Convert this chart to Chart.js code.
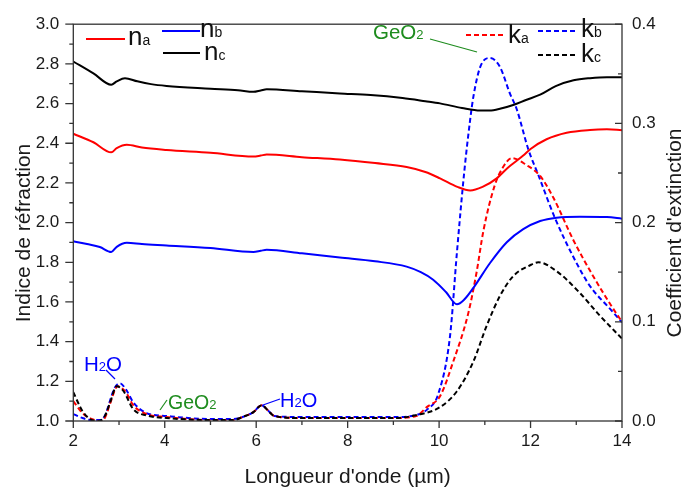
<!DOCTYPE html>
<html><head><meta charset="utf-8">
<script src="https://cdn.jsdelivr.net/npm/chart.js@4/dist/chart.umd.min.js"></script>
<style>html,body{margin:0;padding:0;background:#fff}canvas{display:block}</style>
</head><body>
<canvas id="c" width="684" height="490"></canvas>
<script>
// ---- data (wavelength in µm) ----
const ncX = [2.0, 2.44, 2.83, 2.95, 3.13, 3.4, 3.7, 4.04, 5.0, 5.6, 5.94, 6.1, 6.23, 7.0, 7.83, 8.5, 9.2, 9.7, 10.02, 10.5, 10.9, 11.1, 11.35, 11.62, 11.9, 12.21, 12.55, 12.94, 13.3, 13.67, 14.0];
const ncY = [2.812, 2.752, 2.695, 2.712, 2.728, 2.712, 2.698, 2.689, 2.675, 2.667, 2.659, 2.666, 2.672, 2.662, 2.651, 2.643, 2.628, 2.612, 2.601, 2.578, 2.565, 2.565, 2.575, 2.593, 2.618, 2.645, 2.688, 2.717, 2.728, 2.733, 2.732];

const naX = [2.0, 2.44, 2.83, 2.95, 3.17, 3.5, 4.04, 5.0, 5.94, 6.1, 6.23, 7.0, 7.83, 8.6, 9.29, 9.7, 10.02, 10.4, 10.68, 10.95, 11.26, 11.48, 11.84, 12.0, 12.35, 12.79, 13.3, 13.67, 14.0];
const naY = [2.448, 2.405, 2.354, 2.375, 2.392, 2.378, 2.366, 2.352, 2.333, 2.338, 2.343, 2.330, 2.318, 2.300, 2.280, 2.255, 2.223, 2.180, 2.162, 2.180, 2.223, 2.272, 2.338, 2.371, 2.420, 2.453, 2.467, 2.470, 2.466];

const nbX = [2.0, 2.3, 2.58, 2.83, 2.95, 3.17, 3.5, 4.04, 5.0, 5.94, 6.1, 6.23, 7.0, 7.83, 8.6, 9.29, 9.6, 9.87, 10.15, 10.39, 10.55, 10.75, 11.11, 11.48, 11.84, 12.21, 12.57, 13.08, 13.67, 14.0];
const nbY = [1.906, 1.892, 1.877, 1.852, 1.878, 1.898, 1.892, 1.885, 1.872, 1.852, 1.858, 1.863, 1.845, 1.824, 1.805, 1.778, 1.750, 1.712, 1.650, 1.588, 1.612, 1.671, 1.795, 1.901, 1.967, 2.008, 2.025, 2.030, 2.028, 2.020];

const kaX = [2.0, 2.2, 2.4, 2.6, 2.7, 2.8, 2.97, 3.15, 3.31, 3.6, 4.04, 5.0, 5.5, 5.7, 5.94, 6.12, 6.25, 6.4, 7.0, 8.0, 9.0, 9.5, 9.73, 10.02, 10.31, 10.64, 10.82, 10.97, 11.22, 11.4, 11.59, 11.91, 12.21, 12.5, 12.94, 13.37, 13.81, 14.0];
const kaY = [0.020, 0.008, 0.002, 0.000, 0.004, 0.017, 0.035, 0.029, 0.016, 0.007, 0.004, 0.001, 0.001, 0.004, 0.009, 0.016, 0.011, 0.005, 0.003, 0.003, 0.003, 0.005, 0.014, 0.025, 0.060, 0.109, 0.150, 0.192, 0.238, 0.256, 0.265, 0.258, 0.247, 0.225, 0.182, 0.146, 0.113, 0.100];

const kbX = [2.0, 2.2, 2.4, 2.6, 2.7, 2.8, 2.9, 3.02, 3.15, 3.31, 3.6, 4.04, 5.0, 5.5, 5.7, 5.94, 6.12, 6.25, 6.4, 7.0, 8.0, 9.0, 9.5, 9.75, 9.98, 10.24, 10.39, 10.55, 10.68, 10.75, 10.9, 11.11, 11.33, 11.55, 11.7, 11.95, 12.17, 12.53, 12.94, 13.3, 13.74, 14.0];
const kbY = [0.007, 0.003, 0.001, 0.001, 0.006, 0.020, 0.033, 0.038, 0.032, 0.019, 0.008, 0.005, 0.002, 0.002, 0.004, 0.009, 0.016, 0.011, 0.005, 0.004, 0.004, 0.004, 0.006, 0.012, 0.027, 0.086, 0.170, 0.251, 0.304, 0.327, 0.357, 0.366, 0.357, 0.330, 0.314, 0.274, 0.248, 0.205, 0.165, 0.136, 0.113, 0.0995];

const kcX = [2.0, 2.2, 2.36, 2.55, 2.69, 2.8, 2.95, 3.1, 3.31, 3.6, 4.04, 5.0, 5.5, 5.7, 5.94, 6.12, 6.25, 6.4, 7.0, 8.0, 9.0, 9.51, 10.02, 10.39, 10.75, 11.04, 11.33, 11.62, 11.99, 12.17, 12.57, 13.08, 13.5, 14.0];
const kcY = [0.029, 0.010, 0.002, 0.000, 0.005, 0.018, 0.035, 0.030, 0.012, 0.0056, 0.003, 0.001, 0.001, 0.004, 0.009, 0.016, 0.011, 0.005, 0.003, 0.003, 0.003, 0.006, 0.014, 0.030, 0.060, 0.096, 0.126, 0.146, 0.157, 0.160, 0.151, 0.129, 0.107, 0.083];

const xTicks = [2, 4, 6, 8, 10, 12, 14];
const nTicks = [1.0, 1.2, 1.4, 1.6, 1.8, 2.0, 2.2, 2.4, 2.6, 2.8, 3.0];
const kTicks = [0.0, 0.1, 0.2, 0.3, 0.4];

const xTitle = "Longueur d'onde (µm)";
const nTitle = "Indice de réfraction";
const kTitle = "Coefficient d'extinction";

const RED = '#ff0000', BLUE = '#0000ff', BLACK = '#000000', GREEN = '#1e8c1e';
const FONT = "'Liberation Sans', Arial, sans-serif";
const TXT = '#1a1a1a';

function pts(xs, ys) { return xs.map((x, i) => ({ x: x, y: ys[i] })); }

function ds(label, xs, ys, color, axis, dashed) {
  return {
    label, data: pts(xs, ys), yAxisID: axis, borderColor: color, backgroundColor: color,
    borderWidth: 2, borderDash: dashed ? [5, 3] : [], pointRadius: 0,
    cubicInterpolationMode: 'monotone', fill: false
  };
}

function drawParts(ctx, parts, x, y, color) {
  ctx.fillStyle = color;
  ctx.textBaseline = 'alphabetic';
  ctx.textAlign = 'left';
  let cx = x;
  parts.forEach(p => {
    ctx.font = p[1] + 'px ' + FONT;
    ctx.fillText(p[0], cx, y);
    cx += ctx.measureText(p[0]).width;
  });
}

const decor = {
  id: 'decor',
  afterDraw(chart) {
    const ctx = chart.ctx;
    const { left, right, top, bottom } = chart.chartArea;
    const sx = chart.scales.x, sl = chart.scales.yL, sr = chart.scales.yR;
    ctx.save();
    ctx.strokeStyle = '#333';
    ctx.lineWidth = 1.3;
    ctx.setLineDash([]);
    ctx.strokeRect(left, top, right - left, bottom - top);
    ctx.beginPath();
    for (let i = 0; i <= 20; i++) {
      const py = sl.getPixelForValue(1 + i * 0.1);
      const len = i % 2 === 0 ? 8 : 4;
      ctx.moveTo(left, py); ctx.lineTo(left - len, py);
    }
    for (let i = 0; i <= 12; i++) {
      const px = sx.getPixelForValue(2 + i);
      const len = i % 2 === 0 ? 7 : 4;
      ctx.moveTo(px, bottom); ctx.lineTo(px, bottom + len);
    }
    for (let i = 0; i <= 8; i++) {
      const py = sr.getPixelForValue(i * 0.05);
      const len = i % 2 === 0 ? 7 : 4;
      ctx.moveTo(right, py); ctx.lineTo(right - len, py);
    }
    ctx.stroke();

    // axis titles
    const midY = 233;
    ctx.fillStyle = TXT;
    ctx.font = '21px ' + FONT;
    ctx.textAlign = 'center';
    ctx.textBaseline = 'alphabetic';
    ctx.fillText(xTitle, (left + right) / 2, 483);
    ctx.save(); ctx.translate(29.5, midY); ctx.rotate(-Math.PI / 2);
    ctx.fillText(nTitle, 0, 0); ctx.restore();
    ctx.save(); ctx.translate(680.5, midY); ctx.rotate(-Math.PI / 2);
    ctx.fillText(kTitle, 0, 0); ctx.restore();

    // legend
    ctx.lineWidth = 2;
    const legLine = (x1, x2, y, color, dashed) => {
      ctx.strokeStyle = color;
      ctx.setLineDash(dashed ? [5, 3] : []);
      ctx.beginPath(); ctx.moveTo(x1, y); ctx.lineTo(x2, y); ctx.stroke();
    };
    legLine(86, 125, 39, RED, false);
    drawParts(ctx, [['n', 26], ['a', 14]], 128, 45, '#111');
    legLine(162, 200, 31, BLUE, false);
    drawParts(ctx, [['n', 26], ['b', 14]], 200, 37, '#111');
    legLine(163, 200, 53, BLACK, false);
    drawParts(ctx, [['n', 26], ['c', 14]], 204, 60, '#111');
    legLine(466, 504, 35, RED, true);
    drawParts(ctx, [['k', 26], ['a', 14]], 508, 43, '#111');
    legLine(538, 577, 31, BLUE, true);
    drawParts(ctx, [['k', 26], ['b', 14]], 581, 37, '#111');
    legLine(538, 577, 55, BLACK, true);
    drawParts(ctx, [['k', 26], ['c', 14]], 581, 62, '#111');

    // annotations
    ctx.setLineDash([]);
    ctx.lineWidth = 1.2;
    ctx.strokeStyle = GREEN;
    ctx.beginPath(); ctx.moveTo(430, 39); ctx.lineTo(477, 52); ctx.stroke();
    drawParts(ctx, [['GeO', 20.5], ['2', 13]], 373, 38.5, GREEN);

    ctx.beginPath(); ctx.moveTo(160, 410); ctx.lineTo(167, 400); ctx.stroke();
    drawParts(ctx, [['GeO', 19.5], ['2', 13]], 168, 408.5, GREEN);

    ctx.strokeStyle = BLUE;
    ctx.beginPath(); ctx.moveTo(106, 370); ctx.lineTo(115, 379); ctx.stroke();
    drawParts(ctx, [['H', 20.5], ['2', 13], ['O', 20.5]], 84, 370.5, BLUE);

    ctx.beginPath(); ctx.moveTo(263, 405); ctx.lineTo(280, 399); ctx.stroke();
    drawParts(ctx, [['H', 20], ['2', 13], ['O', 20]], 280, 407, BLUE);
    ctx.restore();
  }
};

const tickFont = { family: FONT, size: 17 };

new Chart(document.getElementById('c'), {
  type: 'line',
  data: {
    datasets: [
      ds('n_a', naX, naY, RED, 'yL', false),
      ds('n_b', nbX, nbY, BLUE, 'yL', false),
      ds('n_c', ncX, ncY, BLACK, 'yL', false),
      ds('k_c', kcX, kcY, BLACK, 'yR', true),
      ds('k_a', kaX, kaY, RED, 'yR', true),
      ds('k_b', kbX, kbY, BLUE, 'yR', true)
    ]
  },
  options: {
    responsive: false,
    animation: false,
    devicePixelRatio: 1,
    layout: { padding: { top: 16, left: 0, right: 0, bottom: 0 } },
    plugins: { legend: { display: false }, tooltip: { enabled: false } },
    scales: {
      x: {
        type: 'linear', position: 'bottom', min: 2, max: 14,
        afterBuildTicks: s => { s.ticks = xTicks.map(v => ({ value: v })); },
        afterFit: s => { s.height = 69; },
        grid: { display: false, drawTicks: false },
        border: { display: false },
        ticks: { font: tickFont, color: TXT, padding: 10, maxRotation: 0, callback: v => String(v) },
        title: { display: false }
      },
      yL: {
        type: 'linear', position: 'left', min: 1, max: 3,
        afterBuildTicks: s => { s.ticks = nTicks.map(v => ({ value: v })); },
        afterFit: s => { s.width = 73.3; },
        grid: { display: false, drawTicks: false },
        border: { display: false },
        ticks: { font: tickFont, color: TXT, padding: 14, callback: v => Number(v).toFixed(1) },
        title: { display: false }
      },
      yR: {
        type: 'linear', position: 'right', min: 0, max: 0.4,
        afterBuildTicks: s => { s.ticks = kTicks.map(v => ({ value: v })); },
        afterFit: s => { s.width = 62; },
        grid: { display: false, drawTicks: false },
        border: { display: false },
        ticks: { font: tickFont, color: TXT, padding: 10, callback: v => Number(v).toFixed(1) },
        title: { display: false }
      }
    }
  },
  plugins: [decor]
});
</script>
</body></html>
